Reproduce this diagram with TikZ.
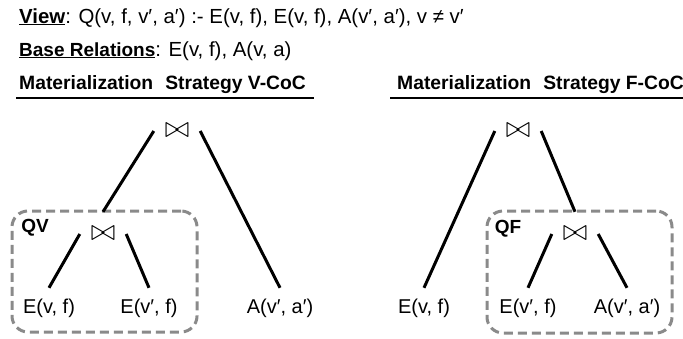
\RequirePackage{fix-cm}
\documentclass[tikz,border=0pt]{standalone}
\usepackage{fontspec}
\setmainfont{Liberation Sans}
\usetikzlibrary{calc}
\definecolor{boxgray}{HTML}{8A8A8A}
\begin{document}
\begin{tikzpicture}[x=1pt,y=-1pt,
  txt/.style={inner sep=0pt, anchor=base west, font=\fontsize{20.4}{24}\selectfont},
  hdr/.style={inner sep=0pt, anchor=base west, font=\fontsize{19.3}{23}\selectfont\bfseries},
  joinop/.style={inner sep=0pt, minimum width=46pt, minimum height=44pt, font=\fontsize{30}{30}\selectfont},
  rel/.style={inner sep=0pt, minimum height=40pt, font=\fontsize{20}{24}\selectfont},
  edge/.style={line width=3pt},
  grp/.style={draw=boxgray, line width=3pt, dash pattern=on 9pt off 5pt, rounded corners=16pt, inner sep=0pt},
  tag/.style={font=\fontsize{19}{23}\selectfont\bfseries, inner sep=0pt},
  hrule/.style={line width=2.8pt}]
\useasboundingbox (0,0) rectangle (683,338);

% text lines
\node[txt] (view) at (19,23) {\underline{\textbf{View}}: Q(v, f, v′, a′) :- E(v, f), E(v, f), A(v′, a′), v ≠ v′};
\node[txt] (base) at (19,56) {\underline{{\fontsize{19}{23}\selectfont\bfseries Base Relations}}: E(v, f), A(v, a)};
\node[hdr] (hdrL) at (19,89) {Materialization\hspace{0.35em} Strategy V-CoC};
\node[hdr] (hdrR) at (397,89) {Materialization\hspace{0.35em} Strategy F-CoC};
\draw[hrule] ($(hdrL.base west)+(-3,9)$) -- ($(hdrL.base east)+(8,9)$);
\draw[hrule] ($(hdrR.base west)+(-7,9)$) -- ($(hdrR.base east)+(8,9)$);

% left tree (V-CoC)
\node[grp, minimum width=185pt, minimum height=121pt] (boxL) at (104.5,271.5) {};
\node[joinop] (jL) at (177,131) {$\bowtie$};
\node[joinop] (jL2) at (103,234) {$\bowtie$};
\node[rel] (eL1) at (49,308) {E(v, f)};
\node[rel] (eL2) at (149,308) {E(v′, f)};
\node[rel] (aL) at (280,308) {A(v′, a′)};
\node[tag] (qv) at (35,228) {QV};
\draw[edge] (jL.west) -- (jL2.north);
\draw[edge] (jL.east) -- (aL.north);
\draw[edge] (jL2.west) -- (eL1.north);
\draw[edge] (jL2.east) -- (eL2.north);

% right tree (F-CoC)
\node[grp, minimum width=185pt, minimum height=122pt] (boxR) at (579.5,272) {};
\node[joinop] (jR) at (518,131) {$\bowtie$};
\node[joinop] (jR2) at (575,234) {$\bowtie$};
\node[rel] (eR1) at (424,308) {E(v, f)};
\node[rel] (eR2) at (528,308) {E(v′, f)};
\node[rel] (aR) at (627,308) {A(v′, a′)};
\node[tag] (qf) at (508,229) {QF};
\draw[edge] (jR.west) -- (eR1.north);
\draw[edge] (jR.east) -- (jR2.north);
\draw[edge] (jR2.west) -- (eR2.north);
\draw[edge] (jR2.east) -- (aR.north);
\end{tikzpicture}
\end{document}
